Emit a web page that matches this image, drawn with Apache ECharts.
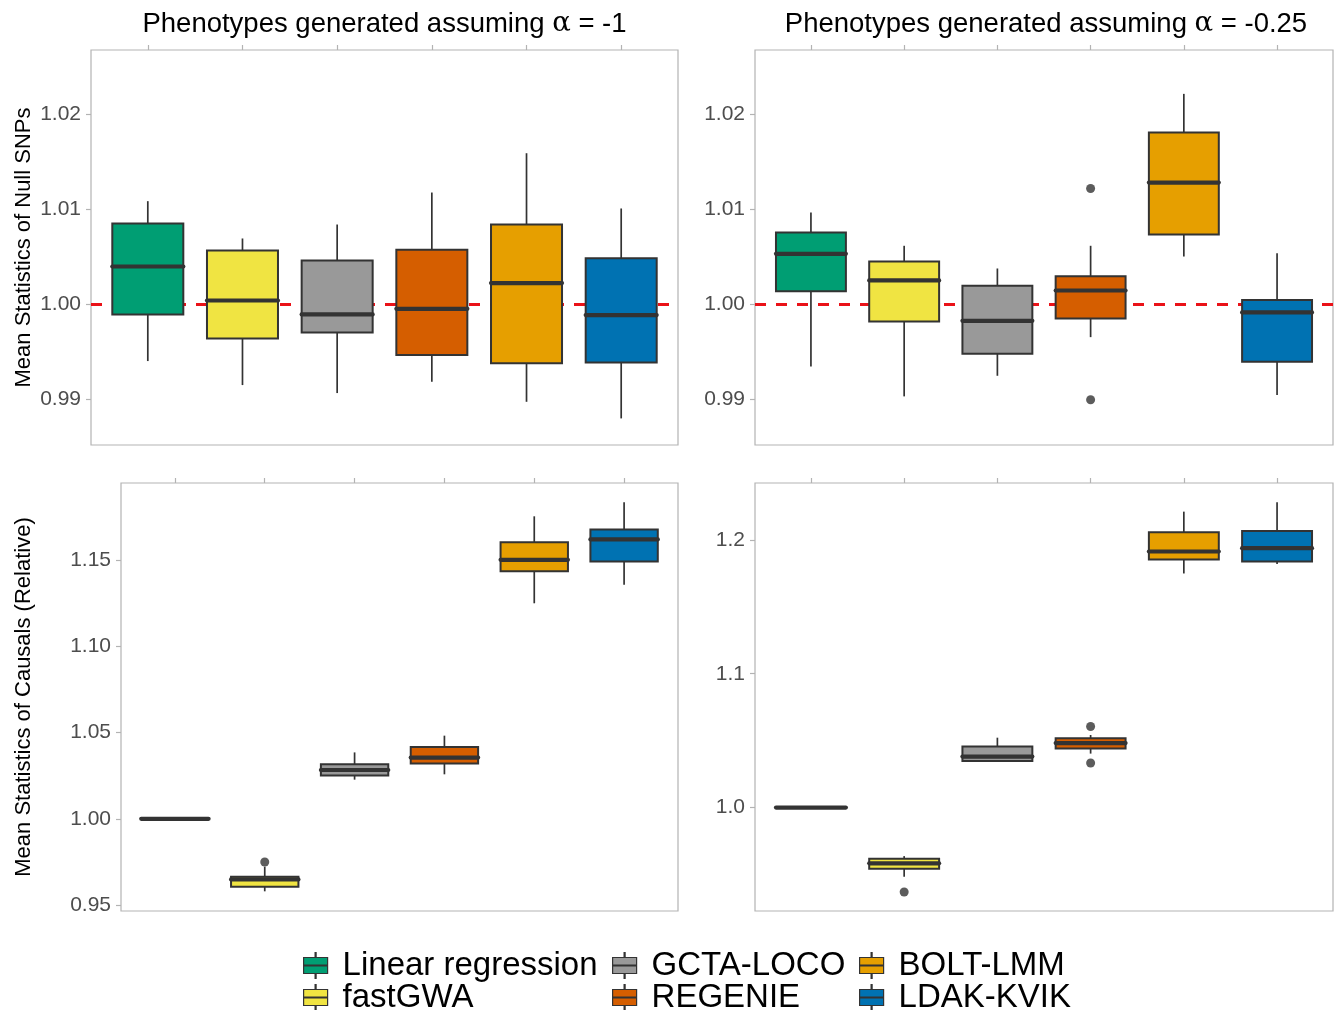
<!DOCTYPE html>
<html>
<head>
<meta charset="utf-8">
<script src="https://cdn.jsdelivr.net/npm/echarts@6/dist/echarts.min.js"></script>
<style>html,body{margin:0;padding:0;background:#fff}#c{width:1334px;height:1010px}</style>
</head>
<body>
<div id="c"></div>
<script>
// ---------------- data ----------------
const methods = ['Linear regression', 'fastGWA', 'GCTA-LOCO', 'REGENIE', 'BOLT-LMM', 'LDAK-KVIK'];
const colors = ['#009E73', '#F0E442', '#999999', '#D55E00', '#E69F00', '#0072B2'];

// each row: [lower whisker, Q1, median, Q3, upper whisker], in method order
const nullAlphaMinus1 = [
  [0.99404, 0.99895, 1.00400, 1.00853, 1.01088],
  [0.99151, 0.99642, 1.00042, 1.00568, 1.00695],
  [0.99067, 0.99705, 0.99895, 1.00463, 1.00842],
  [0.99186, 0.99467, 0.99954, 1.00575, 1.01179],
  [0.98975, 0.99382, 1.00225, 1.00842, 1.01593],
  [0.98800, 0.99389, 0.99888, 1.00488, 1.01011]
];
const nullAlphaMinus025 = [
  [0.99347, 1.00140, 1.00533, 1.00758, 1.00968],
  [0.99032, 0.99821, 1.00253, 1.00453, 1.00618],
  [0.99249, 0.99481, 0.99828, 1.00196, 1.00379],
  [0.99656, 0.99853, 1.00147, 1.00298, 1.00618],
  [1.00505, 1.00737, 1.01284, 1.01811, 1.02218],
  [0.99046, 0.99396, 0.99916, 1.00046, 1.00540]
];
const causalAlphaMinus1 = [
  [1.0000, 1.0000, 1.0000, 1.0000, 1.0000],
  [0.9580, 0.9607, 0.9649, 0.9665, 0.9723],
  [1.0227, 1.0251, 1.0283, 1.0316, 1.0385],
  [1.0258, 1.0320, 1.0355, 1.0416, 1.0482],
  [1.1249, 1.1434, 1.1501, 1.1603, 1.1753],
  [1.1357, 1.1491, 1.1619, 1.1676, 1.1834]
];
const causalAlphaMinus025 = [
  [1.0000, 1.0000, 1.0000, 1.0000, 1.0000],
  [0.9483, 0.9543, 0.9583, 0.9617, 0.9637],
  [1.0343, 1.0348, 1.0381, 1.0457, 1.0522],
  [1.0403, 1.0442, 1.0482, 1.0517, 1.0542],
  [1.1749, 1.1853, 1.1913, 1.2057, 1.2211],
  [1.1819, 1.1839, 1.1938, 1.2067, 1.2281]
];

const outliersNullMinus1 = [];
const outliersNullMinus025 = [
  { method: 'REGENIE', value: 1.01221 },
  { method: 'REGENIE', value: 0.98996 }
];
const outliersCausalMinus1 = [
  { method: 'fastGWA', value: 0.9750 }
];
const outliersCausalMinus025 = [
  { method: 'fastGWA', value: 0.9369 },
  { method: 'REGENIE', value: 1.0606 },
  { method: 'REGENIE', value: 1.0333 }
];

const ticksNull = [0.99, 1.00, 1.01, 1.02];
const ticksCausalMinus1 = [0.95, 1.00, 1.05, 1.10, 1.15];
const ticksCausalMinus025 = [1.0, 1.1, 1.2];

const nullReference = 1.00;

const titles = ['Phenotypes generated assuming ', 'α', ' = -1', ' = -0.25'];
const yTitles = ['Mean Statistics of Null SNPs', 'Mean Statistics of Causals (Relative)'];

// ---------------- layout / style ----------------
const FONT = '"Liberation Sans", Arial, Helvetica, sans-serif';
const BORDER = '#B3B3B3';
const INK = '#333333';
const BOX_WIDTH = 0.75;

const panels = [
  { data: nullAlphaMinus1, outliers: outliersNullMinus1, ticks: ticksNull, dec: 2,
    grid: { left: 91, top: 50, width: 587, height: 395 }, yMin: 0.9852, yMax: 1.0268,
    yName: yTitles[0], nameGap: 56, ref: true },
  { data: nullAlphaMinus025, outliers: outliersNullMinus025, ticks: ticksNull, dec: 2,
    grid: { left: 755, top: 50, width: 578, height: 395 }, yMin: 0.9852, yMax: 1.0268,
    yName: '', nameGap: 0, ref: true },
  { data: causalAlphaMinus1, outliers: outliersCausalMinus1, ticks: ticksCausalMinus1, dec: 2,
    grid: { left: 121, top: 483, width: 557, height: 428 }, yMin: 0.9466, yMax: 1.1946,
    yName: yTitles[1], nameGap: 86, ref: false },
  { data: causalAlphaMinus025, outliers: outliersCausalMinus025, ticks: ticksCausalMinus025, dec: 1,
    grid: { left: 755, top: 483, width: 578, height: 428 }, yMin: 0.9227, yMax: 1.2425,
    yName: '', nameGap: 0, ref: false }
];

function renderBox(params, api) {
  const x = api.value(0);
  const lo = api.coord([x, api.value(1)]);
  const q1 = api.coord([x, api.value(2)]);
  const md = api.coord([x, api.value(3)]);
  const q3 = api.coord([x, api.value(4)]);
  const hi = api.coord([x, api.value(5)]);
  const half = api.size([BOX_WIDTH, 0])[0] / 2;
  const cx = md[0];
  const color = api.visual('color');
  return {
    type: 'group',
    children: [
      { type: 'line', shape: { x1: cx, y1: hi[1], x2: cx, y2: q3[1] }, style: { stroke: INK, lineWidth: 1.7 } },
      { type: 'line', shape: { x1: cx, y1: q1[1], x2: cx, y2: lo[1] }, style: { stroke: INK, lineWidth: 1.7 } },
      { type: 'rect', shape: { x: cx - half, y: q3[1], width: half * 2, height: q1[1] - q3[1] },
        style: { fill: color, stroke: INK, lineWidth: 2 } },
      { type: 'line', shape: { x1: cx - half, y1: md[1], x2: cx + half, y2: md[1] },
        style: { stroke: INK, lineWidth: 4.2, lineCap: 'round' } }
    ]
  };
}

const grid = [], xAxis = [], yAxis = [], series = [];
const methodIdx = methods.map((m, i) => i);

panels.forEach((p, pi) => {
  grid.push(Object.assign({ show: true, borderColor: BORDER, borderWidth: 1.2, backgroundColor: '#fff' }, p.grid));
  xAxis.push({
    type: 'value', gridIndex: pi, position: 'top', min: -0.6, max: methods.length - 0.4,
    axisLine: { show: false, onZero: false }, splitLine: { show: false },
    axisTick: { show: true, customValues: methodIdx, length: 5, lineStyle: { color: BORDER, width: 1.2 } },
    axisLabel: { show: false }
  });
  yAxis.push({
    type: 'value', gridIndex: pi, min: p.yMin, max: p.yMax, position: 'left',
    axisLine: { show: false, onZero: false }, splitLine: { show: false },
    axisTick: { show: true, customValues: p.ticks, length: 5, lineStyle: { color: BORDER, width: 1.2 } },
    axisLabel: { customValues: p.ticks, formatter: v => Number(v).toFixed(p.dec),
                 color: '#4D4D4D', fontSize: 21, fontFamily: FONT, margin: 10 },
    name: p.yName, nameLocation: 'middle', nameGap: p.nameGap, nameRotate: 90,
    nameTextStyle: { color: '#000', fontSize: 22, fontFamily: FONT }
  });
  methods.forEach((m, mi) => {
    const s = {
      type: 'custom', name: m, xAxisIndex: pi, yAxisIndex: pi, z: 2,
      renderItem: renderBox, itemStyle: { color: colors[mi] },
      encode: { x: 0, y: [1, 2, 3, 4, 5] },
      data: [[mi].concat(p.data[mi])], animation: false, silent: true
    };
    if (p.ref && mi === 0) {
      s.markLine = {
        silent: true, z: 1, symbol: ['none', 'none'], label: { show: false }, animation: false,
        lineStyle: { color: '#EA1218', width: 3, type: [11, 10] },
        data: [{ yAxis: nullReference }]
      };
    }
    series.push(s);
  });
  series.push({
    type: 'scatter', name: 'outliers', xAxisIndex: pi, yAxisIndex: pi, z: 4,
    symbolSize: 9, itemStyle: { color: INK }, animation: false, silent: true,
    data: p.outliers.map(o => [methods.indexOf(o.method), o.value])
  });
});

// legend: ggplot-style 2 rows x 3 columns, filled column by column
const ICON = 'path://M11.5 0h1v5h-1z M0 5h24v16h-24z M0 12.5h24v1h-24z M11.5 21h1v5h-1z';
const legendLeft = [303, 612, 859];
const legendTop = [949, 981];
const legend = methods.map((name, i) => ({
  left: legendLeft[Math.floor(i / 2)], top: legendTop[i % 2], padding: 0,
  itemWidth: 24, itemHeight: 26, selectedMode: false, icon: ICON,
  itemStyle: { borderColor: INK, borderWidth: 1.2 },
  textStyle: { fontSize: 33, color: '#000', fontFamily: FONT, lineHeight: 31, padding: [0, 0, 0, 10] },
  data: [name]
}));

const titleRich = {
  t: { fontSize: 27.5, color: '#000', fontFamily: FONT, fontWeight: 'normal' },
  g: { fontSize: 27.5, color: '#000', fontFamily: '"DejaVu Serif", "Liberation Serif", serif', fontWeight: 'normal' }
};
const title = [
  { text: '{t|' + titles[0] + '}{g|' + titles[1] + '}{t|' + titles[2] + '}', left: 384.5, textAlign: 'center',
    top: 10, padding: 0, textStyle: { fontWeight: 'normal', rich: titleRich } },
  { text: '{t|' + titles[0] + '}{g|' + titles[1] + '}{t|' + titles[3] + '}', left: 1046, textAlign: 'center',
    top: 10, padding: 0, textStyle: { fontWeight: 'normal', rich: titleRich } }
];

const chart = echarts.init(document.getElementById('c'), null, { renderer: 'canvas' });
chart.setOption({
  backgroundColor: '#fff',
  animation: false,
  title, legend, grid, xAxis, yAxis, series
});
</script>
</body>
</html>
